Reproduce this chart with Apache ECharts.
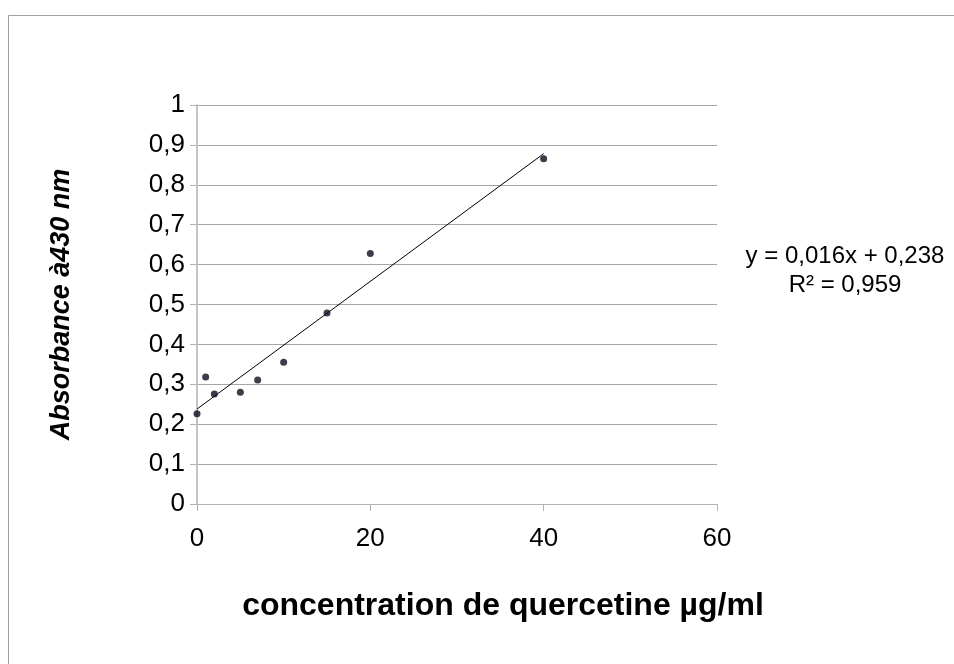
<!DOCTYPE html>
<html>
<head>
<meta charset="utf-8">
<script src="https://cdn.jsdelivr.net/npm/echarts@6/dist/echarts.min.js"></script>
<style>
  html, body { margin: 0; padding: 0; background: #fff; }
  #chart { width: 954px; height: 664px; }
</style>
</head>
<body>
<div id="chart"></div>
<script>
// quercetin standard curve
const concentrations = [0, 1, 2, 5, 7, 10, 15, 20, 40]
const absorbances = [0.226, 0.318, 0.276, 0.280, 0.311, 0.355, 0.479, 0.628, 0.865]
const trendSlope = 0.016
const trendIntercept = 0.238
const trendRange = [0, 40]
const equationLines = ['y = 0,016x + 0,238', 'R² = 0,959']

const font = '"Liberation Sans", Arial, sans-serif'
const comma = v => String(v).replace('.', ',')

const trendData = trendRange.map(x => [x, trendSlope * x + trendIntercept])

const chart = echarts.init(document.getElementById('chart'), null, { renderer: 'canvas' })

chart.setOption({
  animation: false,
  backgroundColor: '#fff',
  grid: { left: 197, right: 237, top: 105, bottom: 160 },
  xAxis: {
    type: 'value',
    min: 0, max: 60, interval: 20,
    axisLine: { show: true, onZero: false, lineStyle: { color: '#b3b3b3', width: 1 } },
    axisTick: { show: true, length: 7, lineStyle: { color: '#b3b3b3' } },
    axisLabel: { color: '#000', fontFamily: font, fontSize: 26, margin: 22 },
    splitLine: { show: false }
  },
  yAxis: {
    type: 'value',
    min: 0, max: 1, interval: 0.1,
    name: 'Absorbance à430 nm',
    nameLocation: 'middle',
    nameGap: 122,
    nameTextStyle: { color: '#000', fontFamily: font, fontSize: 27, fontWeight: 'bold', fontStyle: 'italic' },
    axisLine: { show: true, lineStyle: { color: '#c4c4c4', width: 2 } },
    axisTick: { show: true, length: 7, lineStyle: { color: '#b3b3b3' } },
    axisLabel: { color: '#000', fontFamily: font, fontSize: 26, margin: 12, formatter: v => comma(Math.round(v * 10) / 10) },
    splitLine: { show: true, lineStyle: { color: '#a6a6a6', width: 1 } }
  },
  graphic: [
    {
      type: 'polyline', silent: true,
      shape: { points: [[8.5, 700], [8.5, 15.5], [960, 15.5]] },
      style: { stroke: '#a0a0a0', lineWidth: 1, fill: null }
    },
    {
      type: 'text', x: 503, y: 606,
      style: { text: 'concentration de quercetine µg/ml', font: 'bold 32px ' + font, fill: '#000', align: 'center', verticalAlign: 'middle' }
    },
    {
      type: 'text', x: 845, y: 256,
      style: { text: equationLines[0], font: '24px ' + font, fill: '#000', align: 'center', verticalAlign: 'middle' }
    },
    {
      type: 'text', x: 845, y: 285,
      style: { text: equationLines[1], font: '24px ' + font, fill: '#000', align: 'center', verticalAlign: 'middle' }
    }
  ],
  series: [
    {
      type: 'line',
      data: trendData,
      symbol: 'none',
      lineStyle: { color: '#000', width: 1 },
      z: 2
    },
    {
      type: 'scatter',
      data: concentrations.map((x, i) => [x, absorbances[i]]),
      symbol: 'circle',
      symbolSize: 7,
      itemStyle: { color: '#0b0b1e' },
      z: 3
    }
  ]
})
</script>
</body>
</html>
